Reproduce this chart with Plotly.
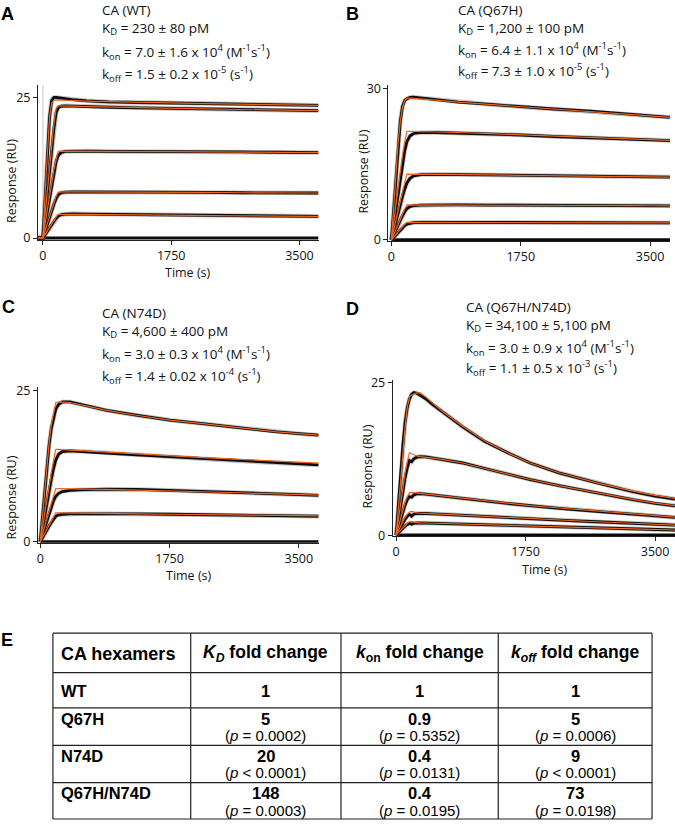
import plotly.graph_objects as go

W, H = 675, 828

# ---------------- DATA ----------------
# Panel A: CA (WT)
tA = [-60, 0, 30, 60, 90, 120, 150, 180, 210, 250, 300, 400, 600, 900, 1300, 1750, 2200, 2700, 3200, 3500, 3760]
A_data = [
    [0, 0, 7, 15, 21.5, 24.5, 25.0, 25.0, 24.95, 24.85, 24.75, 24.6, 24.4, 24.2, 24.1, 24.0, 23.9, 23.8, 23.7, 23.65, 23.6],
    [0, 0, 4, 8, 12, 16, 19.5, 22.3, 23.2, 23.45, 23.5, 23.45, 23.35, 23.25, 23.15, 23.05, 22.95, 22.85, 22.75, 22.7, 22.65],
    [0, 0, 2.4, 4.8, 7.2, 9.5, 11.7, 13.6, 14.7, 15.2, 15.4, 15.45, 15.45, 15.4, 15.4, 15.35, 15.3, 15.3, 15.25, 15.2, 15.2],
    [0, 0, 1.2, 2.5, 3.7, 4.9, 6.0, 7.0, 7.7, 8.05, 8.15, 8.2, 8.2, 8.2, 8.15, 8.1, 8.1, 8.05, 8.0, 8.0, 8.0],
    [0, 0, 0.6, 1.2, 1.8, 2.4, 3.0, 3.5, 3.9, 4.15, 4.25, 4.3, 4.25, 4.2, 4.15, 4.1, 4.0, 3.95, 3.9, 3.88, 3.85],
]
A_fit = [
    [0, 0, 8, 16, 21.5, 24.0, 24.5, 24.55, 24.55, 24.5, 24.5, 24.45, 24.35, 24.25, 24.15, 24.0, 23.9, 23.8, 23.7, 23.65, 23.6],
    [0, 0, 4.3, 8.6, 12.8, 16.8, 20.4, 23.0, 23.5, 23.5, 23.5, 23.45, 23.35, 23.25, 23.15, 23.05, 22.95, 22.85, 22.75, 22.7, 22.65],
    [0, 0, 2.6, 5.1, 7.6, 9.9, 12.1, 14.0, 15.4, 15.45, 15.45, 15.45, 15.45, 15.4, 15.4, 15.35, 15.3, 15.3, 15.25, 15.2, 15.2],
    [0, 0, 1.3, 2.6, 3.9, 5.1, 6.3, 7.4, 8.15, 8.2, 8.2, 8.2, 8.2, 8.2, 8.15, 8.1, 8.1, 8.05, 8.0, 8.0, 8.0],
    [0, 0, 0.65, 1.3, 1.95, 2.55, 3.15, 3.7, 4.2, 4.22, 4.22, 4.22, 4.22, 4.2, 4.15, 4.1, 4.0, 3.95, 3.9, 3.88, 3.85],
]

# Panel B: CA (Q67H)
tB = [0, 30, 60, 90, 120, 150, 180, 210, 250, 300, 400, 600, 900, 1300, 1750, 2200, 2700, 3200, 3500, 3770]
B_data = [
    [0, 6, 12.5, 18.5, 23.5, 26.5, 27.6, 28.0, 28.25, 28.3, 28.15, 27.8, 27.3, 26.9, 26.4, 25.95, 25.55, 25.0, 24.6, 24.3],
    [0, 3, 6.3, 9.5, 12.5, 15.3, 17.7, 19.5, 20.6, 21.1, 21.3, 21.3, 21.2, 21.0, 20.8, 20.5, 20.3, 20.0, 19.85, 19.7],
    [0, 1.8, 3.6, 5.4, 7.1, 8.7, 10.1, 11.3, 12.2, 12.7, 12.95, 13.0, 12.95, 12.9, 12.8, 12.7, 12.65, 12.55, 12.5, 12.47],
    [0, 1, 2, 3, 3.9, 4.8, 5.6, 6.2, 6.6, 6.8, 6.9, 6.95, 6.95, 6.9, 6.9, 6.85, 6.82, 6.8, 6.78, 6.76],
    [0, 0.5, 1.0, 1.5, 2.0, 2.45, 2.85, 3.15, 3.35, 3.45, 3.5, 3.5, 3.5, 3.48, 3.45, 3.43, 3.41, 3.39, 3.38, 3.37],
]
B_fit = [
    [0, 6.5, 13, 19, 23.5, 26.3, 27.6, 28.1, 28.1, 28.05, 27.95, 27.7, 27.3, 26.9, 26.4, 25.95, 25.55, 25.0, 24.6, 24.3],
    [0, 3.5, 7, 10.5, 13.8, 16.8, 19.5, 21.5, 21.5, 21.5, 21.45, 21.4, 21.3, 21.1, 20.85, 20.6, 20.35, 20.05, 19.9, 19.75],
    [0, 2, 4, 6, 7.9, 9.7, 11.4, 13.05, 13.05, 13.05, 13.05, 13.0, 12.95, 12.9, 12.8, 12.7, 12.65, 12.55, 12.5, 12.47],
    [0, 1.05, 2.1, 3.15, 4.2, 5.2, 6.15, 6.95, 6.95, 6.95, 6.95, 6.95, 6.95, 6.9, 6.9, 6.85, 6.82, 6.8, 6.78, 6.76],
    [0, 0.55, 1.1, 1.6, 2.1, 2.6, 3.1, 3.5, 3.5, 3.5, 3.5, 3.5, 3.5, 3.48, 3.45, 3.43, 3.41, 3.39, 3.38, 3.37],
]

# Panel C: CA (N74D)
tC = [0, 30, 60, 90, 120, 150, 180, 210, 250, 300, 400, 600, 900, 1300, 1750, 2200, 2700, 3200, 3500, 3770]
C_data = [
    [0, 4.3, 8.6, 12.6, 16.0, 18.7, 20.6, 21.9, 22.7, 23.1, 23.1, 22.5, 21.7, 20.9, 20.1, 19.5, 18.8, 18.15, 17.85, 17.6],
    [0, 2.2, 4.4, 6.5, 8.5, 10.4, 12.1, 13.5, 14.5, 14.9, 15.0, 14.9, 14.65, 14.35, 14.05, 13.7, 13.35, 13.0, 12.85, 12.7],
    [0, 1.2, 2.4, 3.6, 4.7, 5.8, 6.8, 7.5, 8.0, 8.3, 8.5, 8.6, 8.7, 8.65, 8.5, 8.3, 8.1, 7.9, 7.8, 7.68],
    [0, 0.7, 1.4, 2.0, 2.6, 3.2, 3.8, 4.2, 4.45, 4.55, 4.6, 4.62, 4.62, 4.6, 4.55, 4.45, 4.38, 4.3, 4.25, 4.22],
]
C_fit = [
    [0, 4.3, 8.6, 12.7, 16.3, 19.3, 21.5, 23.0, 23.1, 23.1, 23.0, 22.5, 21.7, 20.9, 20.1, 19.5, 18.8, 18.15, 17.85, 17.6],
    [0, 2.4, 4.8, 7.1, 9.3, 11.4, 13.4, 15.25, 15.25, 15.2, 15.15, 15.0, 14.8, 14.5, 14.2, 13.9, 13.6, 13.3, 13.15, 13.0],
    [0, 1.3, 2.6, 3.9, 5.1, 6.3, 7.6, 8.77, 8.77, 8.75, 8.72, 8.7, 8.65, 8.55, 8.45, 8.3, 8.1, 7.9, 7.8, 7.7],
    [0, 0.7, 1.4, 2.1, 2.8, 3.45, 4.1, 4.76, 4.76, 4.75, 4.74, 4.72, 4.68, 4.62, 4.55, 4.47, 4.4, 4.33, 4.3, 4.28],
]

# Panel D: CA (Q67H/N74D)
tD = [0, 30, 60, 90, 120, 150, 180, 210, 240, 280, 320, 400, 500, 650, 900, 1200, 1500, 1812, 2200, 2700, 3200, 3500, 3770]
D_data = [
    [0, 5, 10, 14.5, 18.3, 20.8, 22.3, 23.0, 23.3, 23.2, 22.9, 22.3, 21.3, 19.9, 17.7, 15.3, 13.5, 11.8, 10.2, 8.6, 7.1, 6.4, 5.9],
    [0, 2.5, 5, 7.3, 9.3, 11.0, 12.2, 12.0, 12.5, 12.75, 12.85, 12.8, 12.6, 12.3, 11.8, 10.9, 10.0, 9.1, 8.1, 6.9, 5.8, 5.2, 4.8],
    [0, 1.3, 2.6, 3.8, 4.9, 5.8, 6.3, 6.2, 6.6, 6.75, 6.8, 6.7, 6.55, 6.35, 6.0, 5.6, 5.2, 4.8, 4.4, 3.9, 3.45, 3.15, 2.9],
    [0, 0.7, 1.4, 2.0, 2.6, 3.1, 3.4, 3.1, 3.45, 3.55, 3.58, 3.55, 3.5, 3.4, 3.25, 3.05, 2.85, 2.65, 2.45, 2.2, 1.95, 1.8, 1.65],
    [0, 0.4, 0.8, 1.15, 1.5, 1.75, 1.95, 1.8, 1.95, 2.0, 2.0, 1.98, 1.95, 1.9, 1.82, 1.72, 1.62, 1.5, 1.38, 1.2, 1.05, 0.95, 0.85],
]
D_fit = [
    [0, 4.5, 9, 13.5, 17.5, 20.8, 22.6, 22.9, 23.1, 23.25, 23.3, 22.6, 21.5, 20.0, 17.8, 15.4, 13.5, 11.8, 10.2, 8.6, 7.2, 6.5, 6.0],
    [0, 2.6, 5.2, 7.8, 10.0, 12.0, 13.45, 13.3, 13.1, 12.95, 12.85, 12.75, 12.6, 12.3, 11.8, 10.9, 10.0, 9.1, 8.1, 6.95, 5.85, 5.25, 4.85],
    [0, 1.4, 2.8, 4.1, 5.3, 6.3, 6.95, 7.0, 6.95, 6.9, 6.85, 6.75, 6.6, 6.4, 6.05, 5.65, 5.25, 4.85, 4.45, 3.95, 3.5, 3.2, 2.95],
    [0, 0.75, 1.5, 2.2, 2.9, 3.4, 3.8, 3.9, 3.75, 3.65, 3.6, 3.55, 3.5, 3.4, 3.25, 3.05, 2.85, 2.65, 2.45, 2.2, 1.95, 1.8, 1.65],
    [0, 0.42, 0.85, 1.25, 1.65, 1.95, 2.2, 2.25, 2.15, 2.08, 2.03, 2.0, 1.96, 1.9, 1.82, 1.72, 1.62, 1.5, 1.38, 1.2, 1.05, 0.95, 0.85],
]

# zero-concentration (buffer) traces
zero_t = [[-60, 3760], [0, 3770], [0, 3770], [0, 3770]]
zero_r = [0, 0]

x_ticks = [0, 1750, 3500]
y_ticks = [[0, 25], [0, 30], [0, 25], [0, 25]]

panel_labels = ["A", "B", "C", "D"]
panel_names = ["CA (WT)", "CA (Q67H)", "CA (N74D)", "CA (Q67H/N74D)"]
kd_text = ["230 ± 80 pM", "1,200 ± 100 pM", "4,600 ± 400 pM", "34,100 ± 5,100 pM"]
kon_text = ["7.0 ± 1.6 x 10<sup>4</sup>", "6.4 ± 1.1 x 10<sup>4</sup>",
            "3.0 ± 0.3 x 10<sup>4</sup>", "3.0 ± 0.9 x 10<sup>4</sup>"]
koff_text = ["1.5 ± 0.2 x 10<sup>-5</sup>", "7.3 ± 1.0 x 10<sup>-5</sup>",
             "1.4 ± 0.02 x 10<sup>-4</sup>", "1.1 ± 0.5 x 10<sup>-3</sup>"]

# Table (panel E)
table_header = ["CA hexamers", "<i>K<sub>D</sub></i> fold change",
                "<i>k</i><sub>on</sub> fold change", "<i>k<sub>off</sub></i> fold change"]
table_rows = ["WT", "Q67H", "N74D", "Q67H/N74D"]
kd_fold = ["1", "5", "20", "148"]
kon_fold = ["1", "0.9", "0.4", "0.4"]
koff_fold = ["1", "5", "9", "73"]
kd_p = [None, "= 0.0002", "< 0.0001", "= 0.0003"]
kon_p = [None, "= 0.5352", "= 0.0131", "= 0.0195"]
koff_p = [None, "= 0.0006", "< 0.0001", "= 0.0198"]

# ---------------- LAYOUT HELPERS ----------------
def px(x):
    return x / W

def py(y):
    return 1 - y / H

FONT = "Open Sans"
TFONT = "Liberation Sans"
BLACK = "#0a0a0a"
ORANGE = "#F0641E"

axes_geo = [
    dict(xd=(37, 318), xr=(-68, 3760), yd=(238, 80), yr=(-0.35, 27.27)),
    dict(xd=(388, 670), xr=(-40.5, 3770), yd=(239, 80), yr=(-0.2, 30.78)),
    dict(xd=(37, 318), xr=(-31, 3766), yd=(546, 388), yr=(-0.16, 25.49)),
    dict(xd=(392.3, 675), xr=(-46, 3769), yd=(539, 380), yr=(-0.11, 25.43)),
]

series = [(tA, A_data, A_fit), (tB, B_data, B_fit), (tC, C_data, C_fit), (tD, D_data, D_fit)]

fig = go.Figure()

for i, (t, dat, fit) in enumerate(series):
    xa = "x" if i == 0 else f"x{i+1}"
    ya = "y" if i == 0 else f"y{i+1}"
    fig.add_trace(go.Scatter(x=zero_t[i], y=zero_r, mode="lines", xaxis=xa, yaxis=ya,
                             line=dict(color=BLACK, width=3.2), showlegend=False, hoverinfo="skip"))
    for d in dat:
        fig.add_trace(go.Scatter(x=t, y=d, mode="lines", xaxis=xa, yaxis=ya,
                                 line=dict(color="rgba(90,90,90,0.35)", width=4.5),
                                 showlegend=False, hoverinfo="skip"))
        fig.add_trace(go.Scatter(x=t, y=d, mode="lines", xaxis=xa, yaxis=ya,
                                 line=dict(color=BLACK, width=2.8),
                                 showlegend=False, hoverinfo="skip"))
    for f in fit:
        fig.add_trace(go.Scatter(x=t, y=f, mode="lines", xaxis=xa, yaxis=ya,
                                 line=dict(color=ORANGE, width=1.2),
                                 showlegend=False, hoverinfo="skip"))

layout = dict(width=W, height=H, margin=dict(l=0, r=0, t=0, b=0),
              paper_bgcolor="white", plot_bgcolor="white", showlegend=False,
              font=dict(family=FONT, color="#111", size=12))

for i, g in enumerate(axes_geo):
    xk = "xaxis" if i == 0 else f"xaxis{i+1}"
    yk = "yaxis" if i == 0 else f"yaxis{i+1}"
    ya = "y" if i == 0 else f"y{i+1}"
    xa = "x" if i == 0 else f"x{i+1}"
    layout[xk] = dict(domain=[px(g["xd"][0]), px(g["xd"][1])], range=list(g["xr"]), anchor=ya,
                      tickvals=x_ticks, ticks="outside", ticklen=4, tickwidth=1, tickcolor="#222",
                      showline=True, linecolor="#222", linewidth=1, showgrid=False, zeroline=False,
                      tickfont=dict(family=FONT, size=12.5, color="#111"))
    layout[yk] = dict(domain=[py(g["yd"][0]), py(g["yd"][1])], range=list(g["yr"]), anchor=xa,
                      tickvals=y_ticks[i], ticks="outside", ticklen=4, tickwidth=1, tickcolor="#222",
                      showline=True, linecolor="#222", linewidth=1, showgrid=False, zeroline=False,
                      tickfont=dict(family=FONT, size=12.5, color="#111"))

fig.update_layout(**layout)

ann = []
shapes = []

# injection marker line in panel A
shapes.append(dict(type="line", xref="x", yref="y domain", x0=0, x1=0, y0=0, y1=1,
                   line=dict(color="#c8c8c8", width=1), layer="below"))

# panel letters
letter_pos = [(7, 8), (352, 8), (8, 306), (352, 308), (6, 645)]
for lab, (x, y) in zip(panel_labels + ["E"], letter_pos):
    ann.append(dict(text=f"<b>{lab}</b>", x=px(x), y=py(y), xref="paper", yref="paper",
                    xanchor="center", yanchor="middle", showarrow=False,
                    font=dict(family=TFONT, size=18, color="#000")))

# kinetic text blocks: (name + K_D) as one two-line block, then k_on, k_off
text_x = [99, 456, 99, 464]
block_y = [13.5, 13.5, 322, 316]        # centre of the two-line block
kon_y = [47, 45, 354, 348]
koff_y = [69, 66, 376, 368]
for i in range(4):
    ann.append(dict(text=f"{panel_names[i]}<br>K<sub>D</sub> = {kd_text[i]}",
                    x=px(text_x[i]), y=py(block_y[i]), xref="paper", yref="paper",
                    xanchor="left", yanchor="middle", align="left", showarrow=False,
                    font=dict(family=FONT, size=13.5, color="#111")))
    ann.append(dict(text=f"k<sub>on</sub> = {kon_text[i]} (M<sup>-1</sup>s<sup>-1</sup>)",
                    x=px(text_x[i]), y=py(kon_y[i]), xref="paper", yref="paper",
                    xanchor="left", yanchor="middle", showarrow=False,
                    font=dict(family=FONT, size=13.5, color="#111")))
    ann.append(dict(text=f"k<sub>off</sub> = {koff_text[i]} (s<sup>-1</sup>)",
                    x=px(text_x[i]), y=py(koff_y[i]), xref="paper", yref="paper",
                    xanchor="left", yanchor="middle", showarrow=False,
                    font=dict(family=FONT, size=13.5, color="#111")))

# axis titles
ytitle_pos = [(11, 178), (363, 168), (11, 500), (367, 468)]
for (x, y) in ytitle_pos:
    ann.append(dict(text="Response (RU)", x=px(x), y=py(y), xref="paper", yref="paper",
                    xanchor="center", yanchor="middle", textangle=-90, showarrow=False,
                    font=dict(family=FONT, size=12.5, color="#111")))
xtitle_pos = [(187, 271), (188, 579), (545, 573)]
for (x, y) in xtitle_pos:
    ann.append(dict(text="Time (s)", x=px(x), y=py(y), xref="paper", yref="paper",
                    xanchor="center", yanchor="middle", showarrow=False,
                    font=dict(family=FONT, size=12.5, color="#111")))

# table
tx = [52, 190, 340.5, 498, 652]
ty = [638, 678, 714, 752, 790, 827]
for x in tx:
    shapes.append(dict(type="line", xref="paper", yref="paper", x0=px(x), x1=px(x),
                       y0=py(ty[0]), y1=py(ty[-1]), line=dict(color="#222", width=1.2)))
for y in ty:
    shapes.append(dict(type="line", xref="paper", yref="paper", x0=px(tx[0]), x1=px(tx[-1]),
                       y0=py(y), y1=py(y), line=dict(color="#222", width=1.2)))

col_c = [(tx[1] + tx[2]) / 2, (tx[2] + tx[3]) / 2, (tx[3] + tx[4]) / 2]
hy = (ty[0] + ty[1]) / 2 + 1
ann.append(dict(text=f"<b>{table_header[0]}</b>", x=px(58), y=py(hy), xref="paper", yref="paper",
                xanchor="left", yanchor="middle", showarrow=False,
                font=dict(family=TFONT, size=18, color="#000")))
for c, htxt in zip(col_c, table_header[1:]):
    ann.append(dict(text=f"<b>{htxt}</b>", x=px(c), y=py(hy), xref="paper", yref="paper",
                    xanchor="center", yanchor="middle", showarrow=False,
                    font=dict(family=TFONT, size=17.5, color="#000")))

for r in range(4):
    top, bot = ty[r + 1], ty[r + 2]
    vy = (top + bot) / 2 + 1 if r == 0 else top + 11
    ann.append(dict(text=f"<b>{table_rows[r]}</b>", x=px(58), y=py(vy), xref="paper", yref="paper",
                    xanchor="left", yanchor="middle", showarrow=False,
                    font=dict(family=TFONT, size=16.5, color="#000")))
    for c, vals, ps in zip(col_c, [kd_fold, kon_fold, koff_fold], [kd_p, kon_p, koff_p]):
        ann.append(dict(text=f"<b>{vals[r]}</b>", x=px(c), y=py(vy), xref="paper", yref="paper",
                        xanchor="center", yanchor="middle", showarrow=False,
                        font=dict(family=TFONT, size=16.5, color="#000")))
        if ps[r]:
            ann.append(dict(text=f"(<i>p</i> {ps[r]})", x=px(c), y=py(top + 28), xref="paper",
                            yref="paper", xanchor="center", yanchor="middle", showarrow=False,
                            font=dict(family=TFONT, size=15, color="#000")))

fig.update_layout(annotations=ann, shapes=shapes)
fig.write_html("out.html", config={"displayModeBar": False},
               post_script="document.body.style.margin='0';document.body.style.padding='0';")
